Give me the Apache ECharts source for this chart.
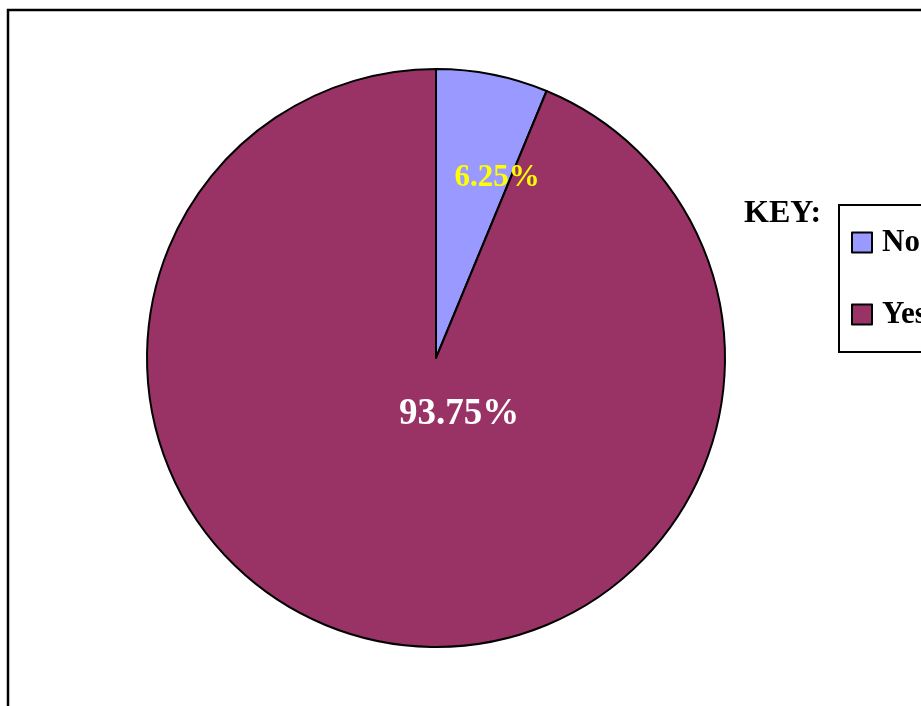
<!DOCTYPE html>
<html>
<head>
<meta charset="utf-8">
<script src="https://cdn.jsdelivr.net/npm/echarts@6/dist/echarts.min.js"></script>
<style>
  html, body { margin: 0; padding: 0; background: #ffffff; }
  #chart { width: 921px; height: 706px; }
</style>
</head>
<body>
<div id="chart"></div>
<script>
// Survey answers (percent of respondents)
const categories = ['No', 'Yes'];
const shares = [6.25, 93.75];
const sliceColors = ['#9999FF', '#993366'];
const labelColors = ['#FFFF00', '#FFFFFF'];
const labelSizes = [31, 37];
// where each percentage sits inside its slice
const labelSpots = [[497, 178], [459, 414]];

const serif = '"Liberation Serif", "Times New Roman", serif';

const chart = echarts.init(document.getElementById('chart'), null, { renderer: 'canvas' });

const pieData = categories.map((name, i) => ({
  name: name,
  value: shares[i],
  itemStyle: { color: sliceColors[i] },
  label: { color: labelColors[i], fontSize: labelSizes[i] }
}));

chart.setOption({
  backgroundColor: '#ffffff',
  animation: false,
  title: {
    text: 'KEY:',
    left: 744,
    top: 198,
    padding: 0,
    textStyle: { fontFamily: serif, fontWeight: 'bold', fontSize: 32, color: '#000000' }
  },
  legend: {
    orient: 'vertical',
    left: 839,
    top: 205,
    data: categories,
    icon: 'rect',
    itemWidth: 20,
    itemHeight: 20,
    itemGap: 41,
    padding: [22, 60, 22, 12],
    borderColor: '#000000',
    borderWidth: 2,
    textStyle: {
      fontFamily: serif, fontWeight: 'bold', fontSize: 31, color: '#000000',
      lineHeight: 30, padding: [0, 0, 0, 5]
    },
    itemStyle: { borderColor: '#000000', borderWidth: 2 }
  },
  graphic: [{
    type: 'rect',
    shape: { x: 8, y: 10, width: 1200, height: 1000 },
    style: { fill: 'none', stroke: '#000000', lineWidth: 2.5 },
    silent: true,
    z: 100
  }],
  series: [{
    type: 'pie',
    center: [436, 358],
    radius: 289,
    startAngle: 90,
    clockwise: true,
    data: pieData,
    itemStyle: { borderColor: '#000000', borderWidth: 2 },
    label: {
      show: true,
      position: 'inside',
      formatter: p => p.value.toFixed(2) + '%',
      fontFamily: serif,
      fontWeight: 'bold'
    },
    labelLine: { show: false },
    labelLayout: params => ({
      x: labelSpots[params.dataIndex][0],
      y: labelSpots[params.dataIndex][1],
      align: 'center',
      verticalAlign: 'middle'
    }),
    emphasis: { disabled: true }
  }]
});
</script>
</body>
</html>
